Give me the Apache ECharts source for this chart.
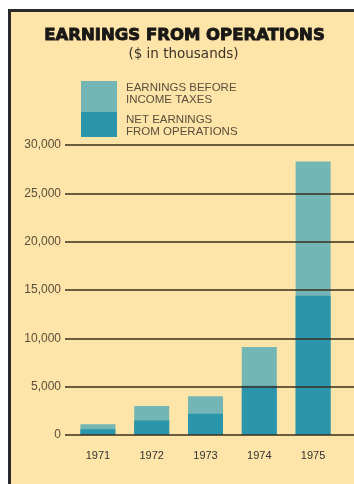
<!DOCTYPE html>
<html>
<head>
<meta charset="utf-8">
<script src="https://cdn.jsdelivr.net/npm/echarts@6/dist/echarts.min.js"></script>
<style>
  html, body { margin: 0; padding: 0; background: #ffffff; }
  #chart { width: 354px; height: 484px; }
</style>
</head>
<body>
<div id="chart"></div>
<script>
// Earnings from operations, 1971-1975 ($ in thousands)
const years = ['1971', '1972', '1973', '1974', '1975'];
const earningsBeforeTaxes = [1100, 3000, 4000, 9100, 28300];
const netEarnings = [600, 1500, 2200, 5100, 14400];
const yTicks = [0, 5000, 10000, 15000, 20000, 25000, 30000];

const paper = '#fde4a8';
const lightTeal = '#74b6b6';
const darkTeal = '#2a95ab';
const ink = '#3a2e1c';
const labelInk = '#5a4e3c';

const yMin = yTicks[0];
const yMax = yTicks[yTicks.length - 1];
const yStep = yTicks[1] - yTicks[0];

const chart = echarts.init(document.getElementById('chart'), null, { renderer: 'canvas' });

chart.setOption({
  backgroundColor: paper,
  animation: false,
  grid: [
    // ruled lines and value labels
    { left: 65, right: 0, top: 145, height: 290 },
    // bars
    { left: 71, right: 14, top: 145, height: 290 }
  ],
  xAxis: [
    { type: 'category', gridIndex: 0, data: years, show: false },
    {
      type: 'category', gridIndex: 1, data: years,
      axisLine: { show: false }, axisTick: { show: false },
      axisLabel: { color: '#333', fontFamily: 'Liberation Sans', fontSize: 11, margin: 15 }
    }
  ],
  yAxis: [
    {
      type: 'value', gridIndex: 0, min: yMin, max: yMax, interval: yStep,
      z: 10,
      axisLine: { show: false }, axisTick: { show: false },
      axisLabel: {
        color: labelInk, fontFamily: 'Liberation Sans', fontSize: 12, margin: 4,
        formatter: v => v.toLocaleString('en-US')
      },
      // the rules run across the bars
      splitLine: { show: true, lineStyle: { color: ink, width: 1.5 } }
    },
    {
      type: 'value', gridIndex: 1, min: yMin, max: yMax, interval: yStep,
      show: false, splitLine: { show: false }
    }
  ],
  series: [
    {
      name: 'EARNINGS BEFORE INCOME TAXES', type: 'bar',
      xAxisIndex: 1, yAxisIndex: 1,
      data: earningsBeforeTaxes, barWidth: 35, barGap: '-100%',
      itemStyle: { color: lightTeal }, z: 3
    },
    {
      name: 'NET EARNINGS FROM OPERATIONS', type: 'bar',
      xAxisIndex: 1, yAxisIndex: 1,
      data: netEarnings, barWidth: 35, barGap: '-100%',
      itemStyle: { color: darkTeal }, z: 4
    }
  ],
  graphic: [
    // white margin outside the panel and its dark frame
    { type: 'rect', shape: { x: 0, y: 0, width: 354, height: 9 }, style: { fill: '#ffffff' }, z: 10 },
    { type: 'rect', shape: { x: 0, y: 0, width: 8, height: 484 }, style: { fill: '#ffffff' }, z: 10 },
    { type: 'rect', shape: { x: 8, y: 9, width: 346, height: 3 }, style: { fill: '#2a2a2a' }, z: 11 },
    { type: 'rect', shape: { x: 8, y: 9, width: 3, height: 475 }, style: { fill: '#2a2a2a' }, z: 11 },
    // title block
    {
      type: 'text', z: 12, x: 184.5, y: 27,
      style: {
        text: 'EARNINGS FROM OPERATIONS', fill: '#1a1816',
        stroke: '#1a1816', lineWidth: 0.9,
        font: 'bold 16.5px "DejaVu Sans"', textAlign: 'center'
      }
    },
    {
      type: 'text', z: 12, x: 183.5, y: 47,
      style: {
        text: '($ in thousands)', fill: '#3b3428',
        font: '13.5px "DejaVu Sans"', textAlign: 'center'
      }
    },
    // legend swatches
    { type: 'rect', z: 12, shape: { x: 81, y: 81, width: 36, height: 31 }, style: { fill: lightTeal } },
    { type: 'rect', z: 12, shape: { x: 81, y: 112, width: 36, height: 25 }, style: { fill: darkTeal } },
    {
      type: 'text', z: 12, x: 126, y: 82,
      style: { text: 'EARNINGS BEFORE\nINCOME TAXES', fill: labelInk, font: '11.5px "Liberation Sans"', lineHeight: 12 }
    },
    {
      type: 'text', z: 12, x: 126, y: 114,
      style: { text: 'NET EARNINGS\nFROM OPERATIONS', fill: labelInk, font: '11.5px "Liberation Sans"', lineHeight: 12 }
    }
  ]
});
</script>
</body>
</html>
